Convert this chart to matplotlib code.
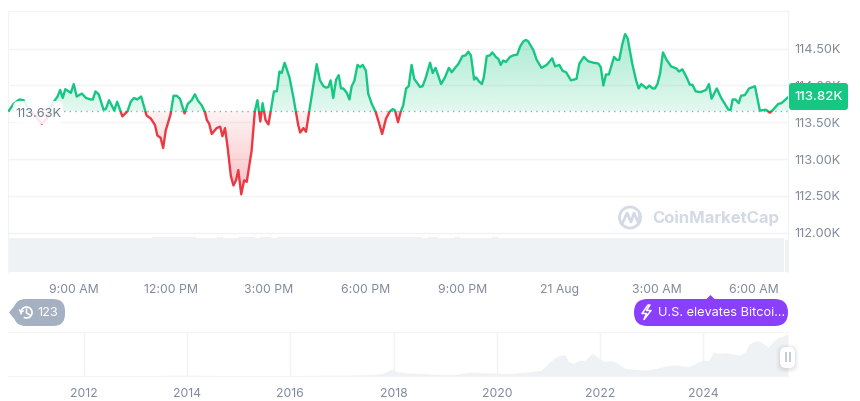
import numpy as np
import matplotlib
matplotlib.use('Agg')
import matplotlib.pyplot as plt
from matplotlib.patches import FancyBboxPatch, Rectangle, Polygon, Circle, Arc
from matplotlib.colors import to_rgb

plt.rcParams['font.family'] = ['Inter', 'DejaVu Sans']

# price trace, hours since midnight 20 Aug / price in thousands of USD
hours = [6.99, 7.13, 7.31, 7.44, 7.59, 7.80, 8.00, 8.16, 8.26, 8.36, 8.49, 8.57, 8.65, 8.73, 8.90, 8.99, 9.08, 9.24, 9.37, 9.51, 9.58, 9.66, 9.76, 9.91, 9.98,
         10.08, 10.24, 10.33, 10.44, 10.49, 10.65, 10.75, 10.85, 10.95, 11.07, 11.20, 11.24, 11.37, 11.50, 11.57, 11.67, 11.75, 11.83, 11.98, 12.07, 12.17, 12.27, 12.41, 12.51, 12.63, 12.73, 12.83, 12.94,
         13.04, 13.10, 13.17, 13.25, 13.40, 13.51, 13.58, 13.66, 13.74, 13.84, 13.92, 14.00, 14.07, 14.16, 14.25, 14.33, 14.48, 14.58, 14.66, 14.75, 14.82, 14.91, 15.00, 15.07, 15.17, 15.26, 15.34, 15.41, 15.50,
         15.65, 15.77, 15.84, 15.92, 15.98, 16.08, 16.16, 16.26, 16.36, 16.49, 16.59, 16.70, 16.78, 16.85, 16.92, 17.00, 17.09, 17.17, 17.24, 17.31, 17.42, 17.50, 17.57, 17.65, 17.75, 17.83, 17.91,
         18.01, 18.08, 18.19, 18.31, 18.42, 18.51, 18.63, 18.75, 18.84, 18.91, 19.00, 19.08, 19.16, 19.25, 19.33, 19.42, 19.50, 19.60, 19.68, 19.76, 19.86, 19.99,
         20.07, 20.16, 20.33, 20.45, 20.57, 20.66, 20.78, 20.86, 20.99, 21.09, 21.17, 21.25, 21.35, 21.41, 21.51, 21.59, 21.65, 21.74, 21.84, 21.91,
         22.02, 22.10, 22.17, 22.25, 22.33, 22.46, 22.56, 22.68, 22.77, 22.87, 22.95, 23.02, 23.18, 23.28, 23.43, 23.59, 23.76, 23.85, 23.98, 24.08, 24.19,
         24.34, 24.51, 24.60, 24.74, 24.87, 25.03, 25.18, 25.26, 25.34, 25.42, 25.51, 25.67, 25.75, 25.83, 25.92, 26.01, 26.09, 26.23, 26.35, 26.43, 26.51, 26.67, 26.76, 26.86, 26.93,
         27.01, 27.09, 27.18, 27.29, 27.43, 27.60, 27.67, 27.78, 27.91, 28.01, 28.09, 28.19, 28.34, 28.51, 28.60, 28.68, 28.84, 28.99, 29.09, 29.20, 29.27, 29.33, 29.42, 29.52, 29.59, 29.71, 29.84,
         30.02, 30.17, 30.36, 30.48, 30.58, 30.74, 30.84, 31.04]
price = [113.66, 113.75, 113.81, 113.80, 113.68, 113.59, 113.48, 113.55, 113.70, 113.77, 113.85, 113.94, 113.83, 113.95, 113.90, 114.02, 113.85, 113.89, 113.83, 113.81, 113.81, 113.92, 113.88, 113.67, 113.68,
         113.80, 113.66, 113.78, 113.64, 113.58, 113.65, 113.78, 113.83, 113.81, 113.85, 113.65, 113.59, 113.55, 113.46, 113.32, 113.29, 113.15, 113.39, 113.61, 113.86, 113.86, 113.82, 113.62, 113.75, 113.80, 113.88, 113.79, 113.73,
         113.64, 113.53, 113.48, 113.34, 113.42, 113.44, 113.31, 113.42, 113.16, 112.77, 112.64, 112.71, 112.85, 112.52, 112.71, 112.69, 113.11, 113.65, 113.80, 113.51, 113.76, 113.53, 113.47, 113.65, 113.92, 113.92, 114.19, 114.17, 114.31,
         114.11, 113.84, 113.66, 113.46, 113.36, 113.42, 113.37, 113.65, 113.93, 114.29, 114.07, 113.99, 113.97, 113.98, 114.07, 113.83, 114.08, 114.14, 113.96, 113.96, 113.90, 113.81, 113.99, 114.06, 114.28, 114.25, 114.28,
         114.20, 113.89, 113.75, 113.64, 113.48, 113.34, 113.55, 113.65, 113.68, 113.66, 113.50, 113.64, 113.73, 113.96, 113.99, 114.28, 114.09, 114.03, 113.98, 113.99, 114.11, 114.31,
         114.17, 114.24, 114.02, 114.11, 114.24, 114.18, 114.25, 114.29, 114.40, 114.41, 114.46, 114.41, 114.08, 114.11, 114.05, 114.02, 114.11, 114.40, 114.41, 114.45,
         114.39, 114.36, 114.28, 114.34, 114.32, 114.39, 114.41, 114.42, 114.53, 114.60, 114.62, 114.60, 114.48, 114.35, 114.24, 114.28, 114.37, 114.26, 114.28, 114.20, 114.18,
         114.07, 114.09, 114.30, 114.39, 114.33, 114.31, 114.30, 114.25, 114.00, 114.15, 114.15, 114.39, 114.35, 114.35, 114.55, 114.70, 114.64, 114.30, 114.07, 113.96, 114.02, 113.96, 114.00, 113.96, 113.96,
         114.02, 114.16, 114.45, 114.35, 114.26, 114.23, 114.19, 114.22, 114.11, 114.01, 114.01, 113.92, 113.91, 113.94, 114.02, 113.82, 113.96, 113.82, 113.75, 113.67, 113.67, 113.81, 113.81, 113.76, 113.86, 113.87, 113.96,
         113.99, 113.66, 113.67, 113.63, 113.67, 113.75, 113.76, 113.84]
baseline = 113.65

y_ticks = [112.0, 112.5, 113.0, 113.5, 114.0, 114.5]
y_labels = ['112.00K', '112.50K', '113.00K', '113.50K', '114.00K', '114.50K']
x_ticks = [9, 12, 15, 18, 21, 24, 27, 30]
x_labels = ['9:00 AM', '12:00 PM', '3:00 PM', '6:00 PM', '9:00 PM', '21 Aug', '3:00 AM', '6:00 AM']

# volume, one bar every 10 minutes from 07:00
volume = [33.8, 33.9, 33.7, 33.8, 33.9, 33.8, 33.7, 33.9, 33.8, 33.9, 33.8, 33.7, 33.9, 34.0, 33.8, 33.7,
          33.6, 34.0, 33.8, 33.3, 33.2, 33.4, 33.7, 33.9, 34.0, 33.9, 34.0, 34.2, 34.6, 34.3, 34.7, 34.4,
          34.2, 34.5, 34.1, 34.0, 33.9, 33.8, 34.0, 34.1, 33.8, 34.0, 33.9, 34.2, 34.3, 34.1, 34.0, 34.2,
          34.1, 34.0, 34.8, 34.9, 34.8, 34.9, 34.7, 34.6, 34.4, 34.7, 34.5, 34.4, 34.7, 34.8, 34.7, 34.9,
          34.8, 34.6, 34.7, 34.5, 34.4, 34.3, 34.5, 34.7, 34.4, 34.6, 34.2, 34.1, 34.3, 34.0, 34.2, 34.1,
          33.9, 34.0, 33.8, 34.1, 33.9, 33.7, 33.9, 34.0, 33.8, 33.9, 34.1, 33.8, 33.7, 33.9, 34.0, 33.8,
          33.7, 33.9, 33.6, 33.8, 33.9, 33.7, 33.8, 33.6, 33.5, 33.7, 33.8, 33.6, 33.7, 33.8, 33.6, 33.5,
          33.7, 33.6, 33.8, 33.5, 33.7, 33.6, 33.4, 33.6, 33.7, 33.5, 33.6, 33.4, 33.5, 33.7, 33.6, 33.5,
          33.4, 33.6, 33.5, 33.3, 33.5, 33.6, 33.4, 33.3, 33.5, 33.4, 33.6, 33.5, 33.3, 33.4, 33.2, 33.3]
last_hour = 31.0
last_volume = 32.0

# all-time brush chart
brush_years = [2010.53, 2013.0, 2013.9, 2014.5, 2016.0, 2017.0, 2017.5, 2017.8, 2017.96, 2018.1, 2018.3, 2018.5, 2018.9, 2019.2, 2019.5, 2019.7, 2020.0, 2020.2, 2020.5, 2020.84,
               2021.0, 2021.13, 2021.23, 2021.32, 2021.39, 2021.48, 2021.58, 2021.71, 2021.84, 2021.90, 2022.0, 2022.10, 2022.19, 2022.29, 2022.39, 2022.48, 2022.65, 2022.90,
               2023.10, 2023.29, 2023.48, 2023.71, 2023.87, 2024.0, 2024.10, 2024.19, 2024.32, 2024.45, 2024.58, 2024.71, 2024.81, 2024.89, 2024.97, 2025.06, 2025.16, 2025.26, 2025.35, 2025.45, 2025.55, 2025.64]
brush_price = [0, 0.2, 1, 0.6, 0.5, 1, 3, 7, 19, 11, 8, 7, 4, 4, 11, 9, 8, 6, 10, 15,
               37, 55, 62, 62, 42, 37, 45, 47, 67, 62, 49, 42, 45, 42, 32, 22, 19, 17,
               22, 30, 32, 27, 39, 47, 45, 70, 67, 69, 65, 62, 72, 95, 102, 105, 97, 85, 102, 115, 119, 125]
brush_ticks = [2012, 2014, 2016, 2018, 2020, 2022, 2024]

GREEN = '#16c784'
RED = '#ea3943'
GRID = '#f1f3f6'
TEXT = '#808a9d'
BAR = '#eff2f5'


def px_axes(x0, y0, x1, y1, **kw):
    return fig.add_axes([x0 / 860, 1 - y1 / 401, (x1 - x0) / 860, (y1 - y0) / 401], **kw)


def gradient(rgb, a_top, a_bottom):
    img = np.zeros((256, 1, 4))
    img[..., :3] = rgb
    img[..., 3] = np.linspace(a_top, a_bottom, 256)[:, None]
    return img


fig = plt.figure(figsize=(8.6, 4.01), dpi=100)

# volume sits under the price axes
ax_vol = px_axes(8, 236, 788, 271.5)
ax_vol.bar(7 + np.arange(len(volume)) / 6, volume, width=0.1667, color=BAR, linewidth=0)
ax_vol.bar([last_hour], [last_volume], width=0.08, color=BAR, linewidth=0)
ax_vol.set_xlim(6.96, 31.04)
ax_vol.set_ylim(0, 35.5)
ax_vol.axis('off')

ax = px_axes(8, 10.5, 788, 271.5)
ax.patch.set_alpha(0)
ymin, ymax = 111.47, 115.02
ax.set_xlim(6.96, 31.04)
ax.set_ylim(ymin, ymax)
for s in ['top', 'left', 'right']:
    ax.spines[s].set_color(GRID)
ax.spines['bottom'].set_visible(False)
ax.yaxis.tick_right()
ax.set_yticks(y_ticks, y_labels, color=TEXT, fontsize=9.2)
ax.set_xticks(x_ticks, x_labels, color=TEXT, fontsize=8.8)
ax.tick_params(length=0, axis='y', pad=4.5)
ax.tick_params(length=0, axis='x', pad=9)
ax.grid(axis='y', color=GRID, linewidth=1)
ax.set_axisbelow(True)

# gradient fills, clipped to the area between price and baseline
area = ax.fill_between(hours, price, baseline, facecolor='none', edgecolor='none')
clip = area.get_paths()[0]
top = ax.imshow(gradient(to_rgb(GREEN), 0.38, 0.12), extent=[6.96, 31.04, baseline, 114.75],
                aspect='auto', zorder=1)
bot = ax.imshow(gradient(to_rgb(RED), 0.06, 0.32), extent=[6.96, 31.04, 112.5, baseline],
                aspect='auto', zorder=1)
top.set_clip_path(clip, ax.transData)
bot.set_clip_path(clip, ax.transData)
ax.set_xlim(6.96, 31.04)
ax.set_ylim(ymin, ymax)

ax.plot([6.96, 31.04], [baseline, baseline], color='#a1a7b5', linewidth=1, linestyle=(0, (1, 3)), zorder=2)

above = Rectangle((6.96, baseline), 24.08, ymax - baseline, transform=ax.transData)
below = Rectangle((6.96, ymin), 24.08, baseline - ymin, transform=ax.transData)
line_g, = ax.plot(hours, price, color=GREEN, linewidth=1.7, solid_joinstyle='round', zorder=3)
line_r, = ax.plot(hours, price, color=RED, linewidth=1.7, solid_joinstyle='round', zorder=3)
line_g.set_clip_path(above)
line_r.set_clip_path(below)

# all-time brush
ax_b = px_axes(8, 331.7, 788, 375.7)
ax_b.fill_between(brush_years, brush_price, 0, color=BAR, linewidth=0)
ax_b.set_xlim(2010.53, 2025.64)
ax_b.set_ylim(0, 132)
ax_b.set_yticks([])
ax_b.set_xticks(brush_ticks, [str(y) for y in brush_ticks], color=TEXT, fontsize=8.8)
ax_b.tick_params(length=0, axis='x', pad=9)
ax_b.grid(axis='x', color=GRID, linewidth=1)
ax_b.set_axisbelow(True)
for s in ['left', 'right']:
    ax_b.spines[s].set_visible(False)
for s in ['top', 'bottom']:
    ax_b.spines[s].set_color(GRID)

# overlay in pixel coordinates for the page furniture
ov = fig.add_axes([0, 0, 1, 1], zorder=10)
ov.set_xlim(0, 860)
ov.set_ylim(401, 0)
ov.axis('off')


def pill(x0, y0, x1, y1, r, **kw):
    p = FancyBboxPatch((x0, y0), x1 - x0, y1 - y0, boxstyle=f'round,pad=0,rounding_size={r}', linewidth=0, **kw)
    ov.add_patch(p)


# start price label
pill(13, 101, 63, 124, 6, facecolor='white', alpha=0.88)
ov.text(38.5, 114, '113.63K', color='#6f7a90', fontsize=9.2, ha='center', va='center')

# current price badge
pill(789, 83, 848, 110, 3, facecolor=GREEN)
ov.text(818.5, 97, '113.82K', color='white', fontsize=9.6, ha='center', va='center', fontweight='medium')

# watermark
wm = '#d3d9e6'
ov.add_patch(Circle((630, 217.5), 10.5, facecolor='none', edgecolor=wm, linewidth=2))
ov.plot([622, 627, 631, 634, 638, 640], [224, 213, 222, 213, 222, 215], color=wm, linewidth=2, solid_joinstyle='round')
ov.text(652, 218.5, 'CoinMarketCap', color=wm, fontsize=12, fontweight='bold', ha='left', va='center')

# history pill
pill(14, 299, 65, 326, 12, facecolor='#a6b0c3')
ov.add_patch(Polygon([[9, 312.5], [16, 304], [16, 321]], facecolor='#a6b0c3', linewidth=0))
ov.add_patch(Arc((26.5, 312.5), 11, 11, theta1=-200, theta2=120, edgecolor='white', linewidth=1.2))
ov.plot([26.5, 26.5, 30], [309, 313, 315], color='white', linewidth=1.1)
ov.plot([19.5, 21, 23], [310, 312.5, 311], color='white', linewidth=1.1)
ov.text(37.5, 312.5, '123', color='white', fontsize=9.2, ha='left', va='center')

# news pill
purple = '#8a3ffc'
pill(634, 299, 788, 326, 13.5, facecolor=purple)
ov.add_patch(Polygon([[706, 299.5], [710.5, 295], [715, 299.5]], facecolor=purple, linewidth=0))
ov.add_patch(Polygon([[648, 305], [642, 313.5], [646.5, 313.5], [644, 319.5], [651, 310.5], [646.5, 310.5], [650, 305]],
                     facecolor='none', edgecolor='white', linewidth=1.1, joinstyle='round'))
ov.text(658, 312.5, 'U.S. elevates Bitcoi...', color='white', fontsize=9.2, ha='left', va='center')

# brush handle
for grow, a in [(4, 0.012), (3, 0.018), (2, 0.025), (1, 0.035)]:
    pill(780 - grow, 347 - grow + 1, 795 + grow, 368 + grow + 1, 7, facecolor='black', alpha=a)
pill(780, 347, 795, 368, 6, facecolor='white')
ov.add_patch(Rectangle((785, 352), 1.6, 10, facecolor='#c4cad6', linewidth=0))
ov.add_patch(Rectangle((789, 352), 1.6, 10, facecolor='#c4cad6', linewidth=0))

fig.savefig('out.png', dpi=100)
